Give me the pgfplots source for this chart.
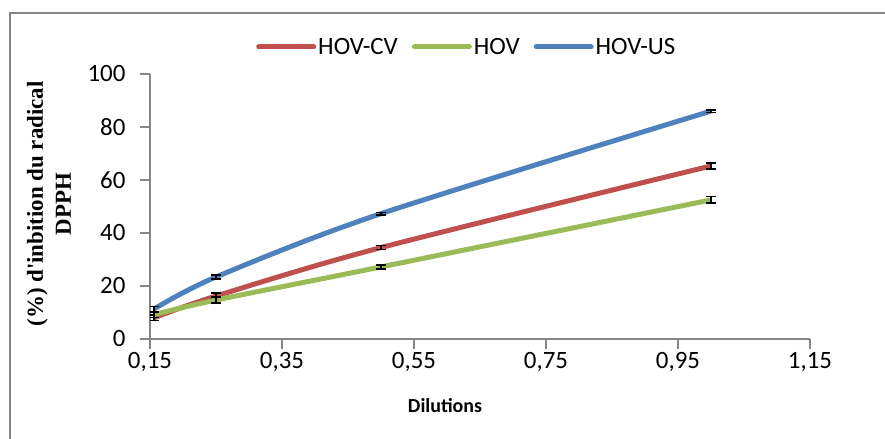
\documentclass[border=0pt]{standalone}
\usepackage{fontspec}
\setmainfont{Carlito}
\newfontfamily\timesb{Liberation Serif}
\usepackage{pgfplots}
\pgfplotsset{compat=1.18}
\definecolor{cvred}{HTML}{C0504D}
\definecolor{hovgreen}{HTML}{9BBB59}
\definecolor{usblue}{HTML}{4F81BD}
\definecolor{axgray}{HTML}{868686}
\begin{document}
\begin{tikzpicture}
\useasboundingbox (0,0) rectangle (885bp,439bp);
\fill[white] (0,0) rectangle (885bp,439bp);
\draw[axgray, line width=1.5bp] (10bp,0) -- (10bp,426bp) -- (885bp,426bp);
\begin{axis}[
  at={(150bp,100bp)}, anchor=south west,
  scale only axis, width=660bp, height=265bp,
  xmin=0.15, xmax=1.15, ymin=0, ymax=100,
  xtick={0.15,0.35,0.55,0.75,0.95,1.15},
  ytick={0,20,40,60,80,100},
  axis x line=bottom, axis y line=left,
  axis line style={-, axgray, line width=1.2bp},
  tick style={axgray, line width=1.2bp},
  tick align=outside, major tick length=10bp,
  xticklabel style={/pgf/number format/.cd, use comma, fixed, fixed zerofill, precision=2},
  yticklabel style={xshift=-11bp},
  /pgf/number format/assume math mode=true,
  tick label style={font=\fontsize{25}{28}\selectfont},
  xlabel={\textbf{Dilutions}},
  xlabel style={font=\fontsize{20}{24}\selectfont, at={(axis description cs:0.447,0)}, anchor=center, yshift=-67bp},
  ylabel={(\%) d'inbition du radical\\DPPH},
  ylabel style={font=\timesb\bfseries\fontsize{23}{28}\selectfont, align=center, at={(axis description cs:-0.153,0.51)}, anchor=center},
  legend columns=3,
  legend style={draw=none, fill=none, at={(axis description cs:0.48,1.102)}, anchor=center,
    font=\fontsize{25}{28}\selectfont, /tikz/every even column/.append style={column sep=12bp}},
  legend image code/.code={\draw[#1, line cap=round] (0bp,0bp) -- (55bp,0bp);},
  every axis plot/.append style={line width=5bp, smooth},
  error bars/y dir=both, error bars/y explicit,
  error bars/error mark=|,
  error bars/error bar style={black, line width=1.2bp, solid},
  error bars/error mark options={black, mark size=5bp, line width=1.5bp},
]
\addplot[cvred] coordinates {(0.156,8.0) +- (0,1.0) (0.25,16.2) +- (0,1.2) (0.5,34.5) +- (0,0.8) (1,65.3) +- (0,1.2)};
\addlegendentry{HOV-CV}
\addplot[hovgreen] coordinates {(0.156,9.2) +- (0,1.0) (0.25,14.7) +- (0,1.2) (0.5,27.2) +- (0,0.8) (1,52.5) +- (0,1.2)};
\addlegendentry{HOV}
\addplot[usblue] coordinates {(0.156,11.3) +- (0,1.0) (0.25,23.4) +- (0,0.8) (0.5,47.3) +- (0,0.5) (1,86.0) +- (0,0.5)};
\addlegendentry{HOV-US}
\end{axis}
\end{tikzpicture}
\end{document}
